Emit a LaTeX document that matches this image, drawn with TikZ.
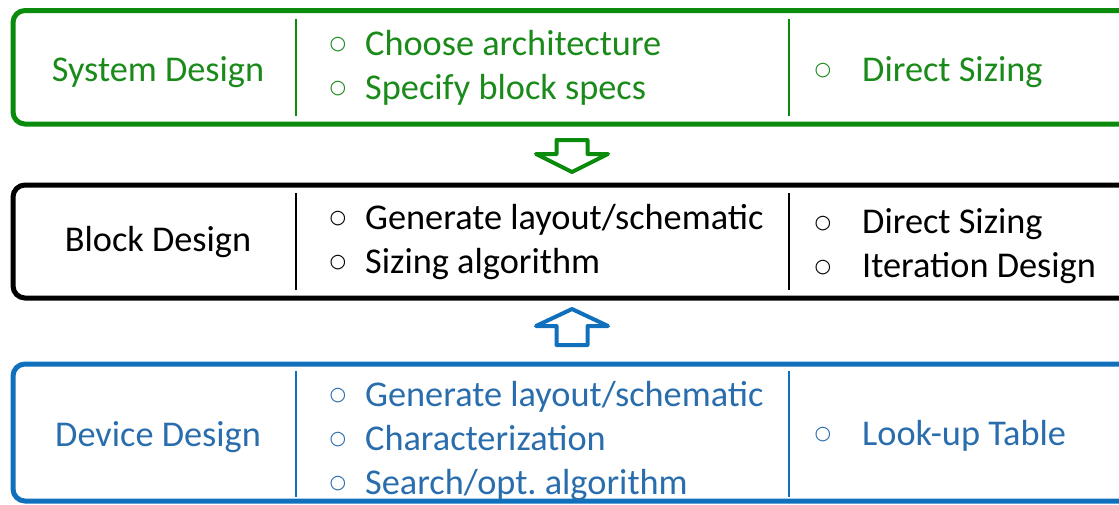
\documentclass[tikz,border=0pt]{standalone}
\usepackage{fontspec}
\setmainfont{Carlito}
\newfontfamily\bulletfont{DejaVu Sans}
\definecolor{sysgreen}{HTML}{0B8B0B}
\definecolor{sysgreentext}{HTML}{1A8A1A}
\definecolor{devblue}{HTML}{1170BC}
\definecolor{devbluetext}{HTML}{2A6DAD}
\tikzset{
  stagebox/.style={draw, line width=5pt, rounded corners=12pt, minimum width=1127pt,
    anchor=north west, inner sep=0pt, outer sep=0pt},
  divider/.style={line width=2pt},
  label/.style={font=\fontsize{36.3}{43}\selectfont, anchor=base, inner sep=0pt},
  item/.style={font=\fontsize{36.3}{43}\selectfont, anchor=base west, inner sep=0pt},
  bul/.style={font=\bulletfont\fontsize{19}{22}\selectfont, anchor=center, inner sep=0pt},
  blockarrow/.style={line width=4pt, line join=round, fill=white},
}
\begin{document}
\frenchspacing
\begin{tikzpicture}[x=1pt,y=-1pt]
\useasboundingbox (0,0) rectangle (1119,504);
\clip (0,0) rectangle (1119,504);

% stage frames (running off the right edge)
\node[stagebox, sysgreen, minimum height=113.5pt] (sys) at (13,10.5) {};
\node[stagebox, black,    minimum height=113pt]   (blk) at (13,185) {};
\node[stagebox, devblue,  minimum height=137pt]   (dev) at (13,364) {};

% column dividers
\draw[divider, sysgreen] (296,19) -- (296,116);
\draw[divider, sysgreen] (789,19) -- (789,116);
\draw[divider, black] (296,193) -- (296,290);
\draw[divider, black] (789,193) -- (789,290);
\draw[divider, devblue] (296,371) -- (296,497);
\draw[divider, devblue] (789,371) -- (789,497);

% system level
\begin{scope}[sysgreentext]
\node[label] (sysname) at (158,81) {System Design};
\node[bul] (sysb1) at (338,45) {○};
\node[item] (sysi1) at (365,55) {Choose architecture};
\node[bul] (sysb2) at (338,89) {○};
\node[item] (sysi2) at (365,99) {Specify block specs};
\node[bul] (sysb3) at (823,71) {○};
\node[item] (sysm1) at (862,81) {Direct Sizing};
\end{scope}

% block level
\begin{scope}[black]
\node[label] (blkname) at (158,251) {Block Design};
\node[bul] (blkb1) at (338,219) {○};
\node[item] (blki1) at (365,229) {Generate layout/schematic};
\node[bul] (blkb2) at (338,263) {○};
\node[item] (blki2) at (365,273) {Sizing algorithm};
\node[bul] (blkb3) at (823,224) {○};
\node[item] (blkm1) at (862,233) {Direct Sizing};
\node[bul] (blkb4) at (823,268) {○};
\node[item] (blkm2) at (862,277) {Iteration Design};
\end{scope}

% device level
\begin{scope}[devbluetext]
\node[label] (devname) at (158,446) {Device Design};
\node[bul] (devb1) at (338,396) {○};
\node[item] (devi1) at (365,406) {Generate layout/schematic};
\node[bul] (devb2) at (338,440) {○};
\node[item] (devi2) at (365,450) {Characterization};
\node[bul] (devb3) at (338,484) {○};
\node[item] (devi3) at (365,494) {Search/opt. algorithm};
\node[bul] (devb4) at (823,435) {○};
\node[item] (devm1) at (862,445) {Look-up Table};
\end{scope}

% flow arrows between levels
\draw[blockarrow, draw=sysgreen] (556.5,140) -- (587.5,140) -- (587.5,154) -- (608,154)
  -- (572,172) -- (536,154) -- (556.5,154) -- cycle;
\draw[blockarrow, draw=devblue] (556.5,345) -- (587.5,345) -- (587.5,326) -- (608,326)
  -- (572,309) -- (536,326) -- (556.5,326) -- cycle;
\end{tikzpicture}
\end{document}
